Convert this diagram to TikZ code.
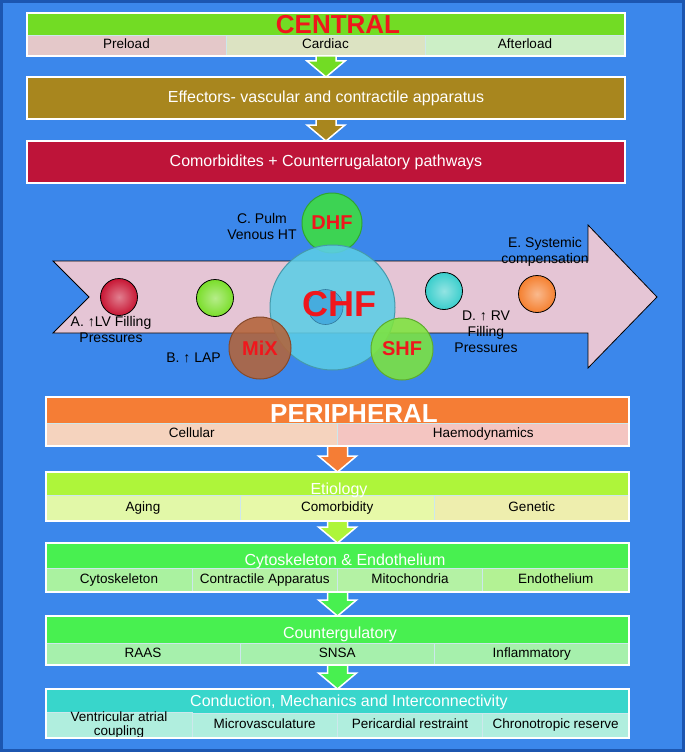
\documentclass[tikz,border=0pt]{standalone}
\usepackage{fontspec}
\setmainfont{Liberation Sans}
\usepackage{tikz}
\usetikzlibrary{calc}

\definecolor{bgblue}{RGB}{59,135,235}
\definecolor{bgedge}{RGB}{28,86,176}
\definecolor{centralgreen}{RGB}{114,220,36}
\definecolor{effectorochre}{RGB}{168,134,30}
\definecolor{comorbcrimson}{RGB}{190,20,57}
\definecolor{periorange}{RGB}{245,125,53}
\definecolor{etiolime}{RGB}{174,245,58}
\definecolor{cytogreen}{RGB}{72,240,80}
\definecolor{condteal}{RGB}{56,214,203}
\definecolor{preloadpink}{RGB}{228,200,201}
\definecolor{cardiacbeige}{RGB}{220,227,194}
\definecolor{afterloadmint}{RGB}{204,239,198}
\definecolor{cellularpeach}{RGB}{245,211,190}
\definecolor{haemopink}{RGB}{244,197,193}
\definecolor{agingcream}{RGB}{226,248,168}
\definecolor{comorbcream}{RGB}{231,249,168}
\definecolor{geneticcream}{RGB}{238,238,174}
\definecolor{cytocell}{RGB}{170,242,160}
\definecolor{cytocelltwo}{RGB}{180,242,164}
\definecolor{countercell}{RGB}{166,240,172}
\definecolor{condcell}{RGB}{176,238,222}
\definecolor{cellline}{RGB}{205,232,236}
\definecolor{ribbonpink}{RGB}{229,197,213}
\definecolor{labelred}{RGB}{240,22,28}
\definecolor{lvred}{RGB}{200,22,52}
\definecolor{lapgreen}{RGB}{122,222,42}
\definecolor{rvcyan}{RGB}{58,206,204}
\definecolor{sysorange}{RGB}{245,128,48}
\definecolor{chfcyan}{RGB}{92,205,230}
\definecolor{chfinner}{RGB}{70,172,222}
\definecolor{dhfgreen}{RGB}{62,222,62}
\definecolor{mixbrown}{RGB}{180,100,58}
\definecolor{shfgreen}{RGB}{126,228,62}

\newcommand{\cellfont}{\fontsize{13.5}{14}\selectfont}
\newcommand{\boxheadfont}{\fontsize{16}{18}\selectfont}
\newcommand{\bigtitlefont}{\fontsize{26}{28}\selectfont\bfseries}
\newcommand{\bubblefont}{\fontsize{20}{22}\selectfont\bfseries}
\newcommand{\chffont}{\fontsize{36}{40}\selectfont\bfseries}
\newcommand{\sidelabelfont}{\fontsize{14}{16}\selectfont}

\tikzset{
  boxframe/.style={draw=white, line width=2pt, inner sep=0pt, outer sep=0pt},
  boxhead/.style={inner sep=0pt, outer sep=0pt},
  boxcell/.style={draw=cellline, line width=0.8pt, inner sep=0pt, outer sep=0pt, font=\cellfont,
    text height=9.8pt, text depth=2.9pt},
  headtext/.style={text=white, font=\boxheadfont, anchor=base, inner sep=0pt},
  bigtitle/.style={font=\bigtitlefont, anchor=base, inner sep=0pt},
  blockarrow/.style={draw=white, line width=1.5pt, line join=miter},
  ballnode/.style={circle, draw=black, line width=0.8pt, minimum size=37pt, inner sep=0pt,
    inner color=#1!55!white, outer color=#1},
  bubble/.style={circle, inner sep=0pt, fill=#1, draw=#1!75!black, line width=1pt,
    fill opacity=0.88, text opacity=1, font=\bubblefont, text=labelred},
  sidelabel/.style={align=center, font=\sidelabelfont, inner sep=0pt},
}

% block arrow between two stacked boxes
\newcommand{\blockarrow}[3]{%
  \draw[blockarrow, fill=#3]
    ($(#1.south)+(-10,0)$) -- ($(#2.north)+(-10,-16)$) -- ($(#2.north)+(-19,-16)$)
    -- (#2.north) -- ($(#2.north)+(19,-16)$) -- ($(#2.north)+(10,-16)$)
    -- ($(#1.south)+(10,0)$) -- cycle;}

\begin{document}
\begin{tikzpicture}[x=1pt, y=-1pt]
  % Background
  \useasboundingbox (0,0) rectangle (685,752);
  \fill[bgblue] (0,0) rectangle (685,752);
  \draw[bgedge, line width=3pt] (1.5,1.5) rectangle (683.5,750.5);

  % Central block
  \node[boxhead, fill=centralgreen, minimum width=598pt, minimum height=22pt] (centralhead) at (326,24) {};
  \node[boxcell, fill=preloadpink, minimum width=199pt, minimum height=21pt] (preload) at (126.5,45.5) {Preload};
  \node[boxcell, fill=cardiacbeige, minimum width=199pt, minimum height=21pt] (cardiac) at (325.5,45.5) {Cardiac};
  \node[boxcell, fill=afterloadmint, minimum width=200pt, minimum height=21pt] (afterload) at (525,45.5) {Afterload};
  \node[boxframe, minimum width=598pt, minimum height=43pt] (central) at (326,34.5) {};
  \node[bigtitle, text=labelred] (centraltitle) at (338,34) {CENTRAL};

  \node[boxframe, fill=effectorochre, minimum width=598pt, minimum height=42pt, text=white, font=\boxheadfont] (effectors) at (326,98) {Effectors- vascular and contractile apparatus};
  \node[boxframe, fill=comorbcrimson, minimum width=598pt, minimum height=42pt, text=white, font=\boxheadfont] (comorbid) at (326,162) {Comorbidites + Counterrugalatory pathways};

  \blockarrow{central}{effectors}{centralgreen}
  \blockarrow{effectors}{comorbid}{effectorochre}

  % Ribbon arrow with the stages
  \draw[black, line width=0.8pt, fill=ribbonpink] (53,261) -- (89,297) -- (53,333) -- (588,333)
    -- (588,368) -- (657,297) -- (588,225) -- (588,261) -- cycle;

  \node[ballnode=lvred] (lvball) at (119,297) {};
  \node[ballnode=lapgreen] (lapball) at (215,298) {};
  \node[ballnode=rvcyan] (rvball) at (444,291) {};
  \node[ballnode=sysorange] (sysball) at (537,294) {};

  % Bubbles
  \node[bubble=dhfgreen, minimum size=60pt] (dhf) at (332,223) {DHF};
  \node[bubble=chfcyan, minimum size=125pt] (chf) at (332.5,307.5) {};
  \node[circle, fill=chfinner, draw=chfinner!70!black, line width=0.6pt, minimum size=35pt, inner sep=0pt] (chfcore) at (325.5,307) {};
  \node[font=\chffont, text=labelred, inner sep=0pt] (chflabel) at (339.5,304) {CHF};
  \node[bubble=mixbrown, minimum size=62pt] (mix) at (260,348) {MiX};
  \node[bubble=shfgreen, minimum size=62pt] (shf) at (402,349) {SHF};

  % Stage labels
  \node[sidelabel] (pulmlabel) at (262,226) {C. Pulm\\Venous HT};
  \node[sidelabel] (syslabel) at (545,252) {E. Systemic\\compensation};
  \node[sidelabel] (lvlabel) at (111,329) {A. ↑LV Filling\\Pressures};
  \node[sidelabel] (laplabel) at (193.5,358) {B. ↑ LAP};
  \node[sidelabel] (rvlabel) at (486,331.5) {D. ↑ RV\\Filling\\Pressures};

  % Peripheral block
  \node[boxhead, fill=periorange, minimum width=583pt, minimum height=26pt] (periphead) at (337.5,410) {};
  \node[boxcell, fill=cellularpeach, minimum width=291.5pt, minimum height=23pt] (cellular) at (191.75,434.5) {Cellular};
  \node[boxcell, fill=haemopink, minimum width=291.5pt, minimum height=23pt] (haemo) at (483.25,434.5) {Haemodynamics};
  \node[boxframe, minimum width=583pt, minimum height=49pt] (peripheral) at (337.5,421.5) {};
  \node[bigtitle, text=white] (perititle) at (354,422) {PERIPHERAL};

  % Etiology
  \node[boxhead, fill=etiolime, minimum width=583pt, minimum height=23pt] (etiohead) at (337.5,483.5) {};
  \node[boxcell, fill=agingcream, minimum width=194pt, minimum height=26pt] (aging) at (143,508) {Aging};
  \node[boxcell, fill=comorbcream, minimum width=194.5pt, minimum height=26pt] (comorbidity) at (337.25,508) {Comorbidity};
  \node[boxcell, fill=geneticcream, minimum width=194.5pt, minimum height=26pt] (genetic) at (531.75,508) {Genetic};
  \node[boxframe, minimum width=583pt, minimum height=49pt] (etiology) at (337.5,496.5) {};
  \node[headtext] (etiotitle) at (339,494) {Etiology};

  % Cytoskeleton & Endothelium
  \node[boxhead, fill=cytogreen, minimum width=583pt, minimum height=25pt] (cytohead) at (337.5,555.5) {};
  \node[boxcell, fill=cytocell, minimum width=146pt, minimum height=24pt] (cytoskel) at (119,580) {Cytoskeleton};
  \node[boxcell, fill=cytocelltwo, minimum width=145.5pt, minimum height=24pt] (contractile) at (264.75,580) {Contractile Apparatus};
  \node[boxcell, fill=cytocelltwo, minimum width=145pt, minimum height=24pt] (mito) at (410,580) {Mitochondria};
  \node[boxcell, fill=cytocelltwo!85!etiolime, minimum width=146.5pt, minimum height=24pt] (endoth) at (555.75,580) {Endothelium};
  \node[boxframe, minimum width=583pt, minimum height=49pt] (cytoendo) at (337.5,567.5) {};
  \node[headtext] (cytotitle) at (345,565.5) {Cytoskeleton \& Endothelium};

  % Countergulatory
  \node[boxhead, fill=cytogreen, minimum width=583pt, minimum height=27pt] (counterhead) at (337.5,629.5) {};
  \node[boxcell, fill=countercell, minimum width=194pt, minimum height=22pt] (raas) at (143,654) {RAAS};
  \node[boxcell, fill=countercell, minimum width=194.5pt, minimum height=22pt] (snsa) at (337.25,654) {SNSA};
  \node[boxcell, fill=countercell, minimum width=194.5pt, minimum height=22pt] (inflam) at (531.75,654) {Inflammatory};
  \node[boxframe, minimum width=583pt, minimum height=49pt] (counterreg) at (337.5,640.5) {};
  \node[headtext] (countertitle) at (340,638.5) {Countergulatory};

  % Conduction, Mechanics and Interconnectivity
  \node[boxhead, fill=condteal, minimum width=583pt, minimum height=24pt] (condhead) at (337.5,701) {};
  \node[boxcell, fill=condcell, minimum width=146pt, minimum height=25pt, align=center, text height={}, text depth={}] (vacoupling) at (119,725.5) {Ventricular atrial\\coupling};
  \node[boxcell, fill=condcell, minimum width=145.5pt, minimum height=25pt] (microvasc) at (264.75,725.5) {Microvasculature};
  \node[boxcell, fill=condcell, minimum width=145pt, minimum height=25pt] (pericard) at (410,725.5) {Pericardial restraint};
  \node[boxcell, fill=condcell, minimum width=146.5pt, minimum height=25pt] (chrono) at (555.75,725.5) {Chronotropic reserve};
  \node[boxframe, minimum width=583pt, minimum height=49pt] (conduction) at (337.5,713.5) {};
  \node[headtext] (condtitle) at (349,706.5) {Conduction, Mechanics and Interconnectivity};

  \blockarrow{peripheral}{etiology}{periorange}
  \blockarrow{etiology}{cytoendo}{etiolime}
  \blockarrow{cytoendo}{counterreg}{cytogreen}
  \blockarrow{counterreg}{conduction}{cytogreen}
\end{tikzpicture}
\end{document}
